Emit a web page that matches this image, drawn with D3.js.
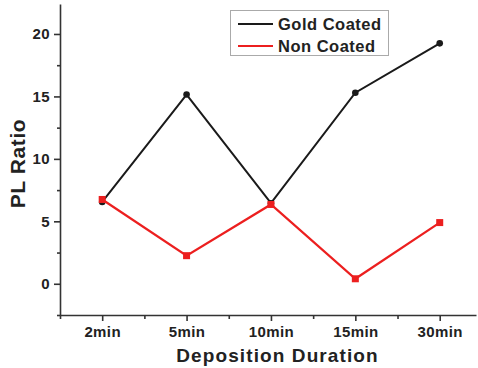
<!DOCTYPE html>
<html>
<head>
<meta charset="utf-8">
<script src="https://cdn.jsdelivr.net/npm/d3@7"></script>
<style>
  html, body { margin: 0; padding: 0; background: #fff; }
  svg { display: block; font-family: "Liberation Sans", Arial, sans-serif; }
</style>
</head>
<body>
<svg id="chart" width="478" height="368"></svg>
<script>
// Deposition durations and PL ratios for the two sample types
const categories = ["2min", "5min", "10min", "15min", "30min"];
const goldCoated = [6.55, 15.15, 6.45, 15.3, 19.25];
const nonCoated = [6.75, 2.25, 6.35, 0.4, 4.9];
const yTicks = [0, 5, 10, 15, 20];
const seriesNames = ["Gold Coated", "Non Coated"];

const svg = d3.select("#chart");
const plotLeft = 60, plotRight = 476, plotTop = 4, plotBottom = 315;

const x = d3.scaleLinear().domain([0.5, 5.43]).range([plotLeft, plotRight]);
const y = d3.scaleLinear().domain([-2.5, 22.4]).range([plotBottom, plotTop]);

const axisColor = "#333";

// Y axis: major ticks with labels, minor ticks between
svg.append("g").attr("transform", `translate(${plotLeft},0)`)
  .call(d3.axisLeft(y).tickValues(yTicks).tickSize(6).tickPadding(4).tickSizeOuter(0));
svg.append("g").attr("transform", `translate(${plotLeft},0)`)
  .call(d3.axisLeft(y).tickValues([-2.5, 2.5, 7.5, 12.5, 17.5]).tickSize(3).tickFormat("").tickSizeOuter(0))
  .select(".domain").remove();

// X axis: category ticks at integer positions, minor ticks at half steps
svg.append("g").attr("transform", `translate(0,${plotBottom})`)
  .call(d3.axisBottom(x).tickValues(d3.range(1, categories.length + 1))
    .tickFormat(i => categories[i - 1]).tickSize(6).tickPadding(5).tickSizeOuter(0));
svg.append("g").attr("transform", `translate(0,${plotBottom})`)
  .call(d3.axisBottom(x).tickValues([0.5, 1.5, 2.5, 3.5, 4.5]).tickSize(4).tickFormat("").tickSizeOuter(0))
  .select(".domain").remove();

svg.selectAll(".domain, .tick line").attr("stroke", axisColor).attr("stroke-width", 1.6);
svg.selectAll(".tick text").attr("fill", "#222")
  .attr("font-size", null).attr("font-family", null)
  .style("font-size", "15px").style("font-weight", "bold").style("letter-spacing", "0.4px")
  .style("font-family", "'Liberation Sans', Arial, sans-serif");

// Axis titles
svg.append("text")
  .attr("transform", `translate(25,163.5) rotate(-90)`)
  .attr("text-anchor", "middle")
  .attr("fill", "#222")
  .style("font-size", "21px").style("font-weight", "bold")
  .style("letter-spacing", "0.6px")
  .text("PL Ratio");

svg.append("text")
  .attr("x", 277.5).attr("y", 361.5)
  .attr("text-anchor", "middle")
  .attr("fill", "#222")
  .style("font-size", "19px").style("font-weight", "bold")
  .style("letter-spacing", "1.1px")
  .text("Deposition Duration");

const line = d3.line().x((d, i) => x(i + 1)).y(d => y(d));

// Gold coated series: black line with round markers
svg.append("path").datum(goldCoated)
  .attr("d", line).attr("fill", "none")
  .attr("stroke", "#1a1a1a").attr("stroke-width", 2);
svg.selectAll(".gold").data(goldCoated).join("circle")
  .attr("class", "gold")
  .attr("cx", (d, i) => x(i + 1)).attr("cy", d => y(d))
  .attr("r", 3.3).attr("fill", "#1a1a1a");

// Non coated series: red line with square markers
svg.append("path").datum(nonCoated)
  .attr("d", line).attr("fill", "none")
  .attr("stroke", "#ec1f1f").attr("stroke-width", 2.2);
svg.selectAll(".non").data(nonCoated).join("rect")
  .attr("class", "non")
  .attr("x", (d, i) => x(i + 1) - 3.5).attr("y", d => y(d) - 3.5)
  .attr("width", 7).attr("height", 7).attr("fill", "#ec1f1f");

// Legend
const legend = svg.append("g");
legend.append("rect")
  .attr("x", 230.5).attr("y", 10.5).attr("width", 158).attr("height", 45)
  .attr("fill", "#fff").attr("stroke", "#aaa").attr("stroke-width", 1);
const legendColors = ["#1a1a1a", "#ec1f1f"];
seriesNames.forEach((name, i) => {
  const ly = 24 + i * 22;
  legend.append("line")
    .attr("x1", 238).attr("x2", 273).attr("y1", ly).attr("y2", ly)
    .attr("stroke", legendColors[i]).attr("stroke-width", 2);
  legend.append("text")
    .attr("x", 278).attr("y", ly + 5.7)
    .attr("fill", "#222")
    .style("font-size", "16.5px").style("font-weight", "bold")
    .style("letter-spacing", "0.5px")
    .text(name);
});
</script>
</body>
</html>
